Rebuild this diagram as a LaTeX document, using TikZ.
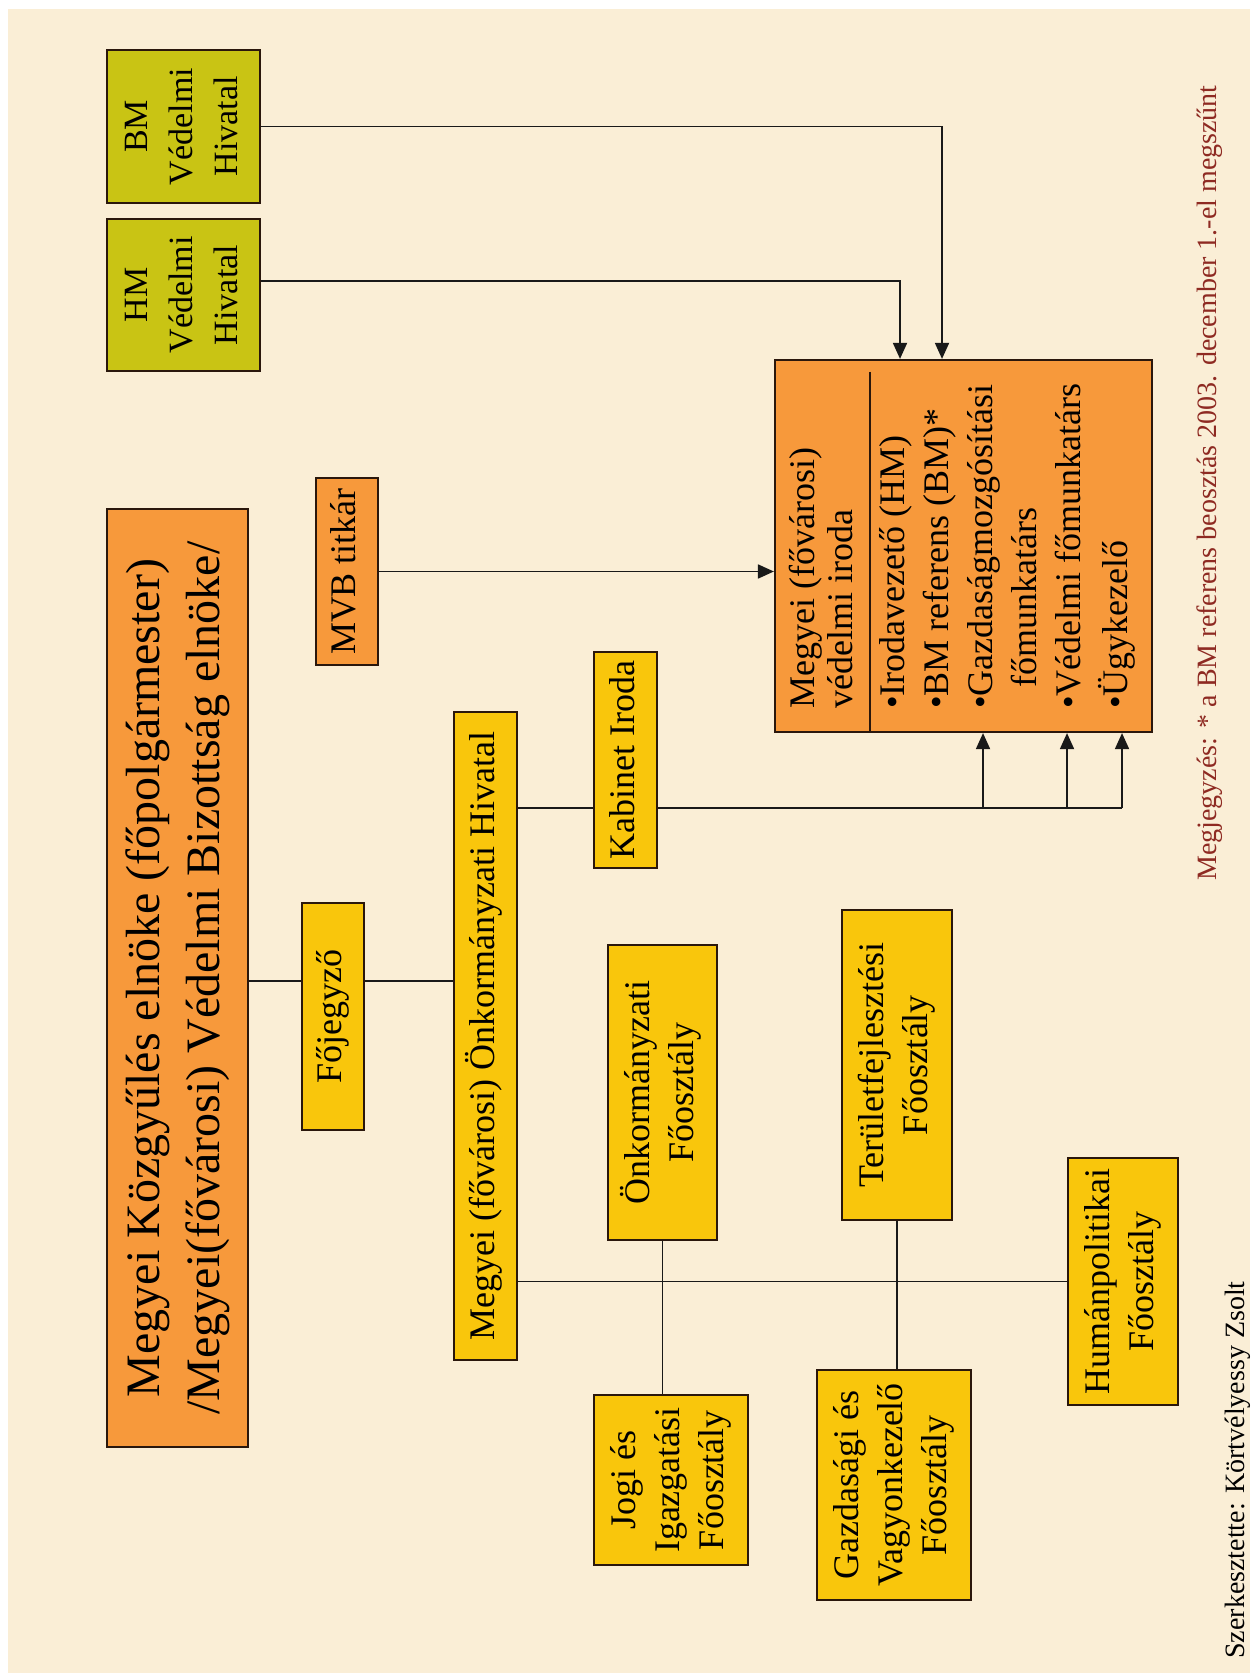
\documentclass[tikz,border=0pt]{standalone}
\usepackage{fontspec}
\setmainfont{Liberation Serif}
\usepackage{graphicx}
\usetikzlibrary{arrows.meta,calc}
\definecolor{parch}{HTML}{FAEED6}
\definecolor{orng}{HTML}{F7993B}
\definecolor{yelw}{HTML}{F9C60C}
\definecolor{olivebox}{HTML}{C9C414}
\definecolor{edgecol}{HTML}{2A170C}
\definecolor{notered}{HTML}{8E2A22}
\newcommand\rotlbl[1]{\rotatebox{90}{\begin{tabular}{@{}c@{}}#1\end{tabular}}}
\begin{document}
\begin{tikzpicture}[x=0.5pt,y=-0.5pt,
  basebox/.style={draw=edgecol, line width=1.1pt, inner sep=0pt, text=black,
                  font=\fontsize{18}{22}\selectfont},
  obox/.style={basebox, fill=orng},
  ybox/.style={basebox, fill=yelw},
  gbox/.style={basebox, fill=olivebox, font=\fontsize{17}{22.5}\selectfont},
  conn/.style={draw=black!90, line width=0.9pt},
  arr/.style={conn, -{Triangle[length=8pt,width=7pt]}},
  sidenote/.style={rotate=90, inner sep=0pt, font=\fontsize{14}{16}\selectfont}]
\fill[white] (0,0) rectangle (1250,1673);
\fill[parch] (8,9) rectangle (1250,1673);
\useasboundingbox (0,0) rectangle (1250,1673);

% boxes
\node[gbox, minimum width=76.5pt, minimum height=76.5pt] (bm) at (183.5,126.5)
  {\rotlbl{BM\\Védelmi\\Hivatal}};
\node[gbox, minimum width=76.5pt, minimum height=76pt] (hm) at (183.5,295)
  {\rotlbl{HM\\Védelmi\\Hivatal}};
\node[obox, font=\fontsize{24}{30}\selectfont, minimum width=70.5pt, minimum height=469pt] (elnok) at (177.5,978)
  {\rotlbl{Megyei Közgyűlés elnöke (főpolgármester)\\/Megyei(fővárosi) Védelmi Bizottság elnöke/}};
\node[obox, minimum width=31pt, minimum height=93.5pt] (mvb) at (347,571.5)
  {\rotlbl{MVB titkár}};
\node[obox, minimum width=188.5pt, minimum height=186pt] (iroda) at (963.5,546)
  {\rotatebox{90}{\fontsize{18}{19}\selectfont\begin{tabular}{@{}l@{}}
   Megyei (fővárosi)\\
   védelmi iroda\\[7pt]
   •Irodavezető (HM)\\[3pt]
   •BM referens (BM)*\\[3pt]
   •Gazdaságmozgósítási\\[3pt]
   \hspace*{0.6em}főmunkatárs\\[3pt]
   •Védelmi főmunkatárs\\[3pt]
   •Ügykezelő
  \end{tabular}}};
\coordinate (divtop) at (870,372);
\draw[draw=edgecol, line width=1pt] (divtop) -- (divtop |- iroda.south);

\node[ybox, minimum width=31pt, minimum height=113.5pt] (fojegyzo) at (333,1016.5)
  {\rotlbl{Főjegyző}};
\node[ybox, minimum width=31.5pt, minimum height=324pt] (hivatal) at (485.5,1036)
  {\rotlbl{Megyei (fővárosi) Önkormányzati Hivatal}};
\node[ybox, minimum width=31.5pt, minimum height=108pt] (kabinet) at (625.5,760)
  {\rotlbl{Kabinet Iroda}};
\node[ybox, minimum width=54.5pt, minimum height=147.5pt] (onk) at (662.5,1092.5)
  {\rotlbl{Önkormányzati\\Főosztály}};
\node[ybox, minimum width=77pt, minimum height=85pt] (jogi) at (671,1480)
  {\rotlbl{Jogi és\\Igazgatási\\Főosztály}};
\node[ybox, minimum width=55pt, minimum height=155pt] (ter) at (897,1065)
  {\rotlbl{Területfejlesztési\\Főosztály}};
\node[ybox, minimum width=77pt, minimum height=115pt] (gazd) at (894,1485)
  {\rotlbl{Gazdasági és\\Vagyonkezelő\\Főosztály}};
\node[ybox, minimum width=55pt, minimum height=123.5pt] (hum) at (1123,1281.5)
  {\rotlbl{Humánpolitikai\\Főosztály}};

% side notes
\node[sidenote, text=notered] (note) at (1210,483)
  {Megjegyzés: * a BM referens beosztás 2003. december 1.-el megszűnt};
\node[sidenote, text=black] (author) at (1238,1470)
  {Szerkesztette: Körtvélyessy Zsolt};

% connectors
\draw[arr] (bm.east) -| ($(iroda.north)+(-21.5,0)$);
\draw[arr] ($(hm.east)+(0,-14)$) -| ($(iroda.north)+(-63.5,0)$);
\draw[arr] (mvb.east) -- (mvb.east -| iroda.west);

\coordinate (fj) at (333,981);
\draw[conn] (elnok.east |- fj) -- (fojegyzo.west |- fj);
\draw[conn] (fojegyzo.east |- fj) -- (hivatal.west |- fj);

\coordinate (kb) at (625.5,808);
\coordinate (a1) at (983,808);
\coordinate (a2) at (1067,808);
\coordinate (a3) at (1122,808);
\draw[conn] (hivatal.east |- kb) -- (kabinet.west |- kb);
\draw[conn] (kabinet.east |- kb) -- (a3);
\draw[arr] (a1) -- (a1 |- iroda.south);
\draw[arr] (a2) -- (a2 |- iroda.south);
\draw[arr] (a3) -- (a3 |- iroda.south);

\draw[conn] (hivatal.east |- hum.west) -- (hum.west);
\draw[conn] (onk.south) -- (onk.south |- jogi.north);
\draw[conn] (ter.south) -- (ter.south |- gazd.north);
\end{tikzpicture}
\end{document}
